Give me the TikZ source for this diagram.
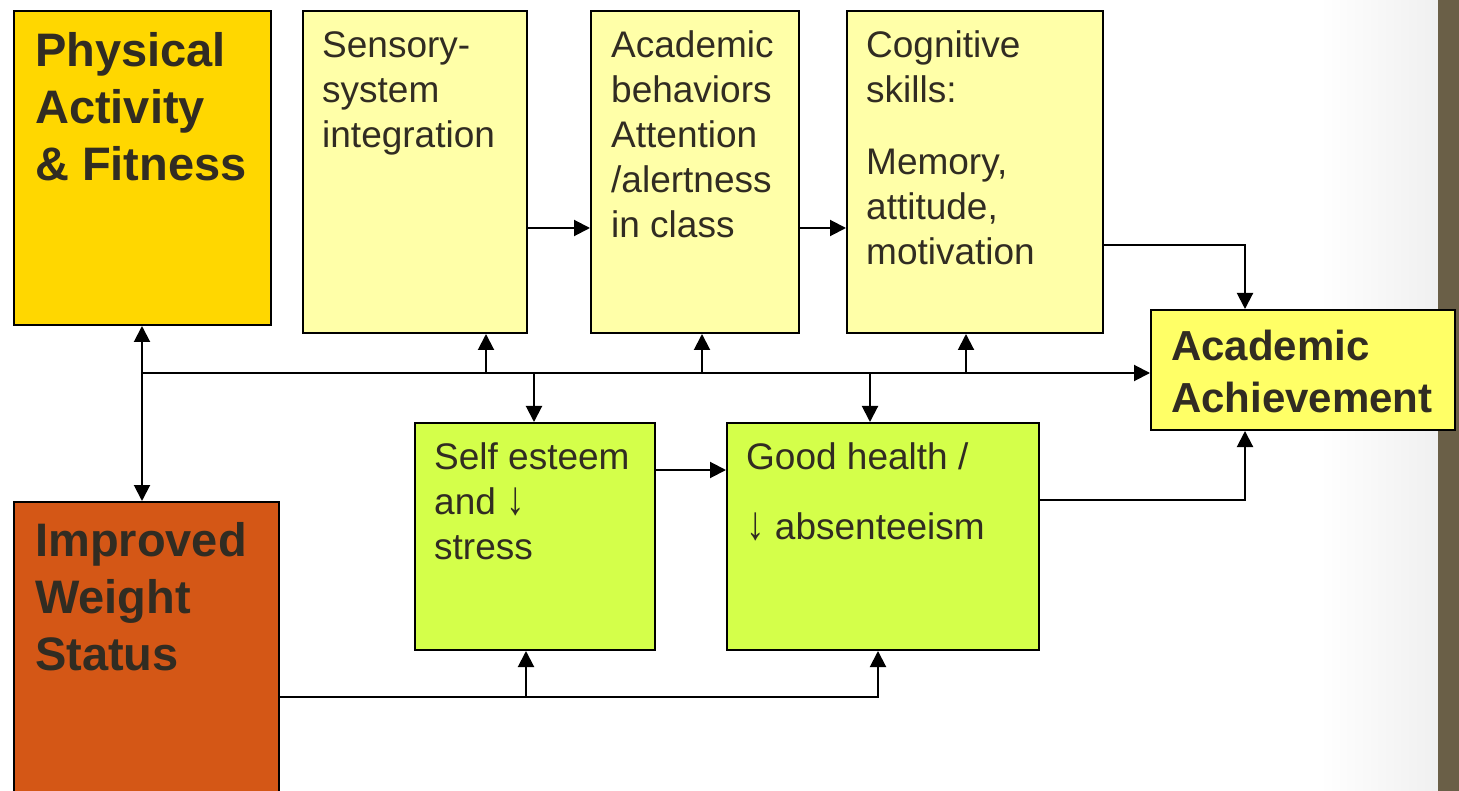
\documentclass[tikz,border=0pt]{standalone}
\usepackage{fontspec}
\usepackage{graphicx}
\setmainfont{Liberation Sans}
\usetikzlibrary{arrows.meta}
\definecolor{goldc}{HTML}{FFD700}
\definecolor{paley}{HTML}{FFFFA8}
\definecolor{achy}{HTML}{FFFF66}
\definecolor{limec}{HTML}{D4FF4A}
\definecolor{orangec}{HTML}{D45716}
\definecolor{stripc}{HTML}{6A5F47}
\definecolor{tcol}{HTML}{312C22}
\newcommand{\dnarr}{\resizebox{0.5em}{0.72em}{↓}}
\tikzset{
  box/.style={draw=black, line width=2pt, anchor=north west, inner sep=0pt},
  txt/.style={anchor=north west, inner sep=0pt, align=left, text=tcol,
    font=\fontsize{37}{45}\selectfont},
  txtb/.style={anchor=north west, inner sep=0pt, align=left, text=tcol,
    font=\fontsize{47}{57}\selectfont\bfseries},
  conn/.style={draw=black, line width=2pt},
  arrow/.style={conn, -{Triangle[width=16pt,length=16pt]}},
  dblarrow/.style={conn, {Triangle[width=16pt,length=16pt]}-{Triangle[width=16pt,length=16pt]}}
}
\begin{document}
\begin{tikzpicture}[x=1pt,y=-1pt]
\useasboundingbox (0,0) rectangle (1459,791);
\clip (0,0) rectangle (1459,791);
\fill[white] (0,0) rectangle (1459,791);
\shade[left color=white, right color=black!6] (1320,0) rectangle (1438,791);
\fill[stripc] (1438,0) rectangle (1459,791);

% boxes
\node[box, fill=goldc, minimum width=257pt, minimum height=314pt] (pa) at (13,10) {};
\node[box, fill=paley, minimum width=224pt, minimum height=322pt] (ss) at (302,10) {};
\node[box, fill=paley, minimum width=208pt, minimum height=322pt] (ab) at (590,10) {};
\node[box, fill=paley, minimum width=256pt, minimum height=322pt] (cs) at (846,10) {};
\node[box, fill=achy, minimum width=304pt, minimum height=120pt] (aa) at (1150,309) {};
\node[box, fill=limec, minimum width=240pt, minimum height=227pt] (se) at (414,422) {};
\node[box, fill=limec, minimum width=312pt, minimum height=227pt] (gh) at (726,422) {};
\node[box, fill=orangec, minimum width=265pt, minimum height=320pt] (iw) at (13,501) {};

% texts
\node[txtb] (paT) at (35,32) {Physical\\Activity\\\& Fitness};
\node[txt] (ssT) at (322,31) {Sensory-\\system\\integration};
\node[txt] (abT) at (611,30) {Academic\\behaviors\\Attention\\/alertness\\in class};
\node[txt] (csT) at (866,30) {Cognitive\\skills:\\[27pt]Memory,\\attitude,\\motivation};
\node[txtb, font=\fontsize{42}{52}\selectfont\bfseries] (aaT) at (1171,330) {Academic\\Achievement};
\node[txt] (seT) at (434,442) {Self esteem\\and \dnarr\\stress};
\node[txt] (ghT) at (746,442) {Good health /\\[25pt]\dnarr\ absenteeism};
\node[txtb] (iwT) at (35,522) {Improved\\Weight\\Status};

% connectors
\coordinate (hub) at (142,373);
\draw[dblarrow] (hub |- pa.south) -- (hub |- iw.north);
\draw[arrow] (hub) -- (hub -| aa.west);
\coordinate (u1) at (486,373);
\coordinate (u2) at (702,373);
\coordinate (u3) at (966,373);
\draw[arrow] (u1) -- (u1 |- ss.south);
\draw[arrow] (u2) -- (u2 |- ab.south);
\draw[arrow] (u3) -- (u3 |- cs.south);
\coordinate (d1) at (534,373);
\coordinate (d2) at (870,373);
\draw[arrow] (d1) -- (d1 |- se.north);
\draw[arrow] (d2) -- (d2 |- gh.north);
\coordinate (r1) at (0,228);
\draw[arrow] (ss.east |- r1) -- (ab.west |- r1);
\draw[arrow] (ab.east |- r1) -- (cs.west |- r1);
\coordinate (c1) at (1245,245);
\draw[arrow] (cs.east |- c1) -- (c1) -- (c1 |- aa.north);
\coordinate (c2) at (1245,500);
\draw[arrow] (gh.east |- c2) -- (c2) -- (c2 |- aa.south);
\coordinate (s1) at (0,470);
\draw[arrow] (se.east |- s1) -- (gh.west |- s1);
\coordinate (w1) at (878,697);
\coordinate (w2) at (526,697);
\draw[arrow] (iw.east |- w1) -- (w1) -- (w1 |- gh.south);
\draw[arrow] (w2) -- (w2 |- se.south);
\end{tikzpicture}
\end{document}
